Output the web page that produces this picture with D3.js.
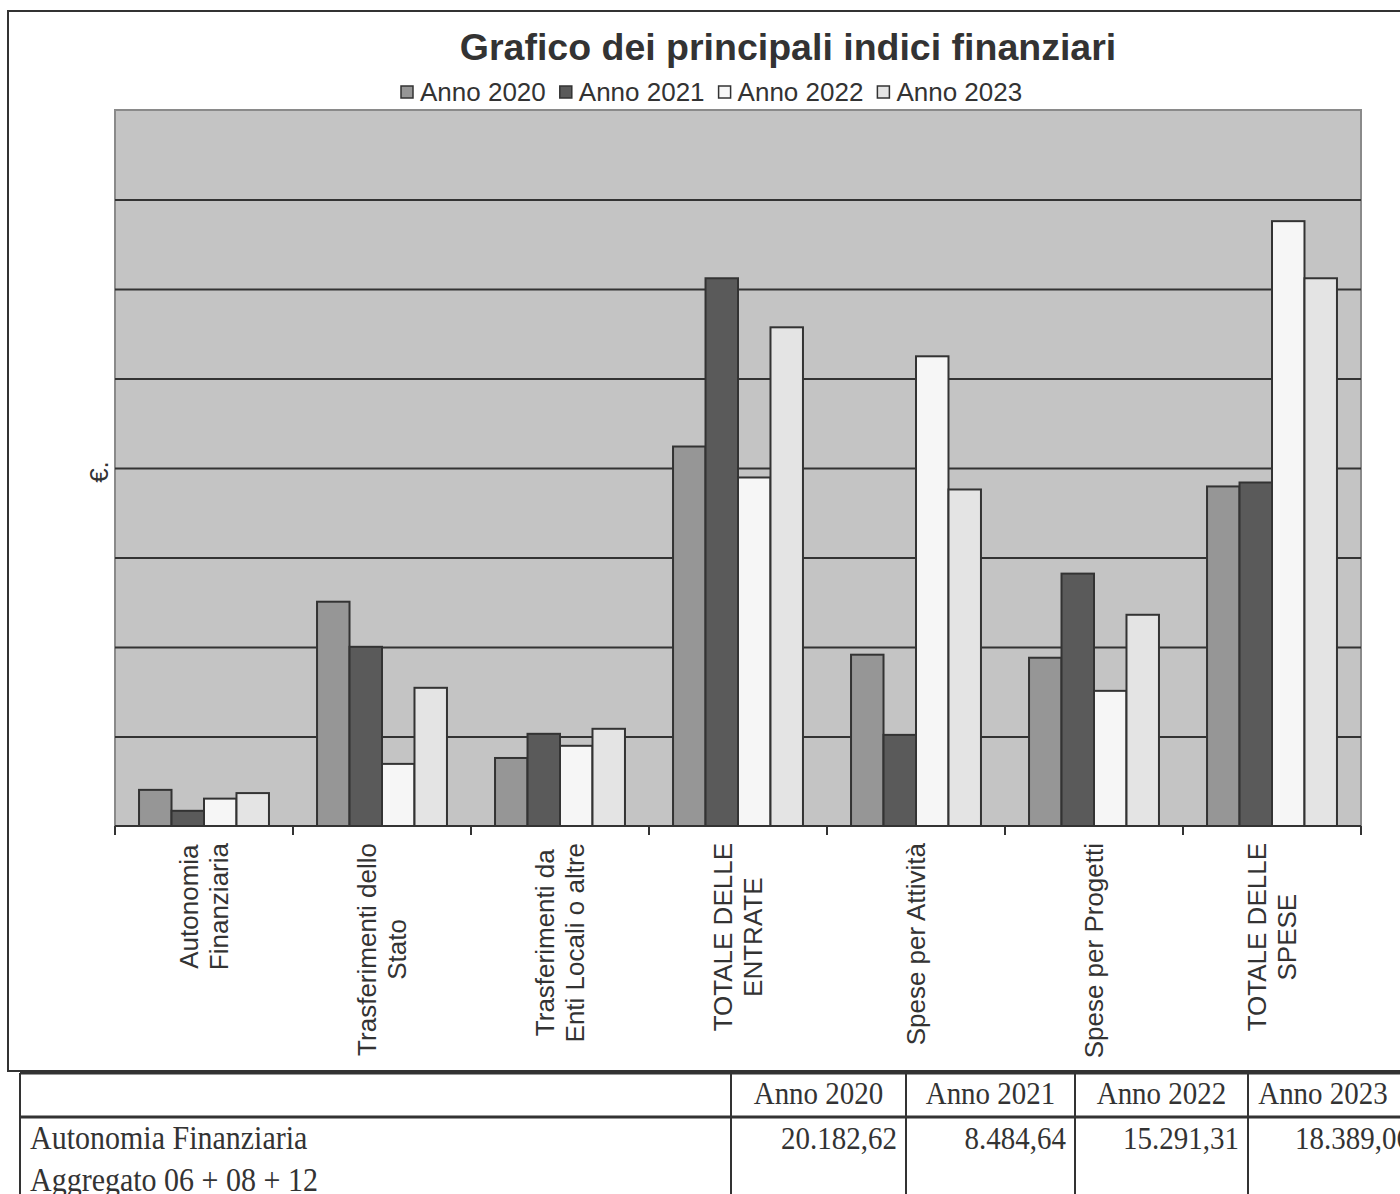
<!DOCTYPE html>
<html>
<head>
<meta charset="utf-8">
<script src="https://cdn.jsdelivr.net/npm/d3@7"></script>
<style>
html,body{margin:0;padding:0;background:#fff;}
svg{display:block;}
</style>
</head>
<body>
<script>
// ---- data ----
const categories = [
  ["Autonomia", "Finanziaria"],
  ["Trasferimenti dello", "Stato"],
  ["Trasferimenti da", "Enti Locali o altre"],
  ["TOTALE DELLE", "ENTRATE"],
  ["Spese per Attività"],
  ["Spese per Progetti"],
  ["TOTALE DELLE", "SPESE"]
];
const seriesNames = ["Anno 2020", "Anno 2021", "Anno 2022", "Anno 2023"];
const anno2020 = [20182.62, 125300, 38000, 212000, 95700, 94000, 189700];
const anno2021 = [8484.64, 100100, 51500, 306000, 50900, 141000, 191900];
const anno2022 = [15291.31, 34700, 44800, 194700, 262400, 75500, 337900];
const anno2023 = [18389.06, 77200, 54300, 278600, 188000, 118000, 306000];
const yTicks = [0, 50000, 100000, 150000, 200000, 250000, 300000, 350000, 400000];
const tableHeader = ["Anno 2020", "Anno 2021", "Anno 2022", "Anno 2023"];
const tableRowLabel = ["Autonomia Finanziaria", "Aggregato 06 + 08 + 12"];
const tableRowValues = ["20.182,62", "8.484,64", "15.291,31", "18.389,06"];

const seriesValues = [anno2020, anno2021, anno2022, anno2023];
const colors = ["#969696", "#5a5a5a", "#f6f6f6", "#e4e4e4"];

const W = 1400, H = 1194;
const svg = d3.select("body").append("svg").attr("width", W).attr("height", H);

// outer chart frame
svg.append("rect").attr("x", 8).attr("y", 11).attr("width", 1420).attr("height", 1060)
  .attr("fill", "#fff").attr("stroke", "#333").attr("stroke-width", 2);

const plot = {left: 115, top: 110, right: 1361, bottom: 826};

const x0 = d3.scaleBand().domain(d3.range(categories.length))
  .range([plot.left, plot.right]).paddingInner(0.27).paddingOuter(0.135);
const x1 = d3.scaleBand().domain(d3.range(seriesNames.length)).range([0, x0.bandwidth()]);
const y = d3.scaleLinear().domain([0, 400000]).range([plot.bottom, plot.top]);

// plot background
svg.append("rect").attr("x", plot.left).attr("y", plot.top)
  .attr("width", plot.right - plot.left).attr("height", plot.bottom - plot.top)
  .attr("fill", "#c4c4c4").attr("stroke", "#8a8a8a").attr("stroke-width", 2);

// gridlines
const grid = svg.append("g").attr("transform", `translate(${plot.left},0)`)
  .call(d3.axisLeft(y).tickValues(yTicks.slice(1, -1)).tickSize(-(plot.right - plot.left)).tickFormat(""));
grid.select(".domain").remove();
grid.selectAll("line").attr("stroke", "#333").attr("stroke-width", 2);

// bars
const groups = svg.append("g").selectAll("g").data(categories).join("g")
  .attr("transform", (d, i) => `translate(${x0(i)},0)`);
groups.selectAll("rect").data((d, i) => seriesValues.map((s, k) => ({k, v: s[i]}))).join("rect")
  .attr("x", d => x1(d.k)).attr("width", x1.bandwidth())
  .attr("y", d => y(d.v)).attr("height", d => y(0) - y(d.v))
  .attr("fill", d => colors[d.k]).attr("stroke", "#333").attr("stroke-width", 2);

// x axis: baseline and ticks at category boundaries
const boundaries = d3.range(categories.length + 1).map(i => plot.left + i * (plot.right - plot.left) / categories.length);
svg.append("line").attr("x1", plot.left).attr("x2", plot.right).attr("y1", plot.bottom).attr("y2", plot.bottom)
  .attr("stroke", "#333").attr("stroke-width", 2);
svg.append("g").selectAll("line").data(boundaries).join("line")
  .attr("x1", d => d).attr("x2", d => d).attr("y1", plot.bottom).attr("y2", plot.bottom + 9)
  .attr("stroke", "#333").attr("stroke-width", 2);

// category labels (rotated)
const labelFont = 26, lineH = 30;
const lab = svg.append("g").selectAll("g").data(categories).join("g");
lab.each(function(lines, i) {
  const g = d3.select(this);
  const cx = x0(i) + x0.bandwidth() / 2;
  const t = g.selectAll("text").data(lines).join("text")
    .attr("font-family", "'Liberation Sans', Arial, sans-serif")
    .attr("font-size", labelFont).attr("fill", "#333")
    .attr("text-anchor", "middle").attr("dominant-baseline", "central")
    .text(d => d);
  let maxW = 0;
  t.each(function() { maxW = Math.max(maxW, this.getComputedTextLength()); });
  const cy = 843 + maxW / 2;
  t.attr("transform", (d, j) => `translate(${cx + (j - (lines.length - 1) / 2) * lineH},${cy}) rotate(-90)`);
});

// y label
svg.append("text").attr("transform", "translate(99,472) rotate(-90)")
  .attr("font-family", "'Liberation Sans', Arial, sans-serif").attr("font-size", 26)
  .attr("fill", "#333").attr("text-anchor", "middle").attr("dominant-baseline", "central").text("€.");

// title
svg.append("text").attr("x", 788).attr("y", 60).attr("text-anchor", "middle")
  .attr("font-family", "'Liberation Sans', Arial, sans-serif").attr("font-weight", "bold")
  .attr("font-size", 37.5).attr("fill", "#333").text("Grafico dei principali indici finanziari");

// legend
const leg = svg.append("g");
let lx = 401;
seriesNames.forEach((name, k) => {
  leg.append("rect").attr("x", lx).attr("y", 86).attr("width", 12).attr("height", 12)
    .attr("fill", colors[k]).attr("stroke", "#333").attr("stroke-width", 1.5);
  const t = leg.append("text").attr("x", lx + 19).attr("y", 101)
    .attr("font-family", "'Liberation Sans', Arial, sans-serif").attr("font-size", 26)
    .attr("fill", "#333").text(name);
  lx += 19 + t.node().getComputedTextLength() + 14;
});

// table
const tbl = svg.append("g").attr("font-family", "'Liberation Serif', 'Times New Roman', serif")
  .attr("fill", "#333");
const colX = [731, 906, 1075, 1248, 1420];
const tTop = 1073, tMid = 1117;
tbl.append("line").attr("x1", 20).attr("x2", 1400).attr("y1", tTop).attr("y2", tTop).attr("stroke", "#333").attr("stroke-width", 3);
tbl.append("line").attr("x1", 20).attr("x2", 1400).attr("y1", tMid).attr("y2", tMid).attr("stroke", "#333").attr("stroke-width", 3);
tbl.append("line").attr("x1", 20).attr("x2", 20).attr("y1", tTop).attr("y2", H).attr("stroke", "#333").attr("stroke-width", 2);
tbl.selectAll("line.col").data(colX.slice(0, 4)).join("line").attr("class", "col")
  .attr("x1", d => d).attr("x2", d => d).attr("y1", tTop).attr("y2", H)
  .attr("stroke", "#333").attr("stroke-width", 2);
const sy = 1.12;
tbl.selectAll("text.hdr").data(tableHeader).join("text").attr("class", "hdr")
  .attr("transform", (d, i) => `translate(${(colX[i] + (i < 3 ? colX[i + 1] : 1398)) / 2},1104) scale(1,${sy})`)
  .attr("text-anchor", "middle").attr("font-size", 29).text(d => d);
tbl.selectAll("text.val").data(tableRowValues).join("text").attr("class", "val")
  .attr("transform", (d, i) => `translate(${colX[i + 1] - 9},1149) scale(1,${sy})`)
  .attr("text-anchor", "end").attr("font-size", 29).text(d => d);
tbl.selectAll("text.rl").data(tableRowLabel).join("text").attr("class", "rl")
  .attr("transform", (d, i) => `translate(30,${1149 + i * 42}) scale(1,${sy})`)
  .attr("font-size", 30).text(d => d);
</script>
</body>
</html>
